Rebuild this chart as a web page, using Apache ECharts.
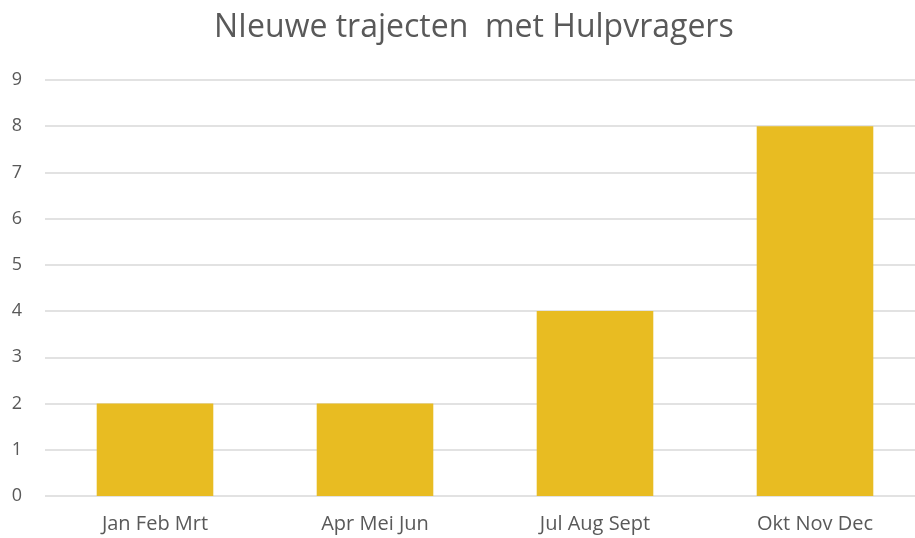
<!DOCTYPE html>
<html>
<head>
<meta charset="utf-8">
<script src="https://cdn.jsdelivr.net/npm/echarts@6/dist/echarts.min.js"></script>
<style>html,body{margin:0;padding:0;background:#fff;overflow:hidden}#c{width:925px;height:538px}</style>
</head>
<body>
<div id="c"></div>
<script>
var titleText = 'NIeuwe trajecten  met Hulpvragers';
var categories = ['Jan Feb Mrt', 'Apr Mei Jun', 'Jul Aug Sept', 'Okt Nov Dec'];
var values = [2, 2, 4, 8];
var yMin = 0, yMax = 9, yInterval = 1;

var chart = echarts.init(document.getElementById('c'), null, {renderer: 'canvas'});
chart.setOption({
  animation: false,
  backgroundColor: '#ffffff',
  title: {
    text: titleText,
    left: 209,
    top: 7,
    textStyle: {fontFamily: 'Open Sans', fontSize: 32, fontWeight: 'normal', color: '#595959'}
  },
  grid: {left: 45, right: 0, top: 80, bottom: 42, containLabel: false},
  xAxis: {
    type: 'category',
    data: categories,
    axisLine: {show: false},
    axisTick: {show: false},
    axisLabel: {fontFamily: 'Open Sans', fontSize: 20, color: '#595959', margin: 18}
  },
  yAxis: {
    type: 'value',
    min: yMin, max: yMax, interval: yInterval,
    axisLine: {show: false},
    axisTick: {show: false},
    axisLabel: {fontFamily: 'Open Sans', fontSize: 18, color: '#595959', margin: 23},
    splitLine: {lineStyle: {color: '#d9d9d9', width: 1.5}}
  },
  series: [{
    type: 'bar',
    data: values,
    barWidth: '53%',
    itemStyle: {color: '#E8BC22'}
  }]
});
</script>
</body>
</html>
